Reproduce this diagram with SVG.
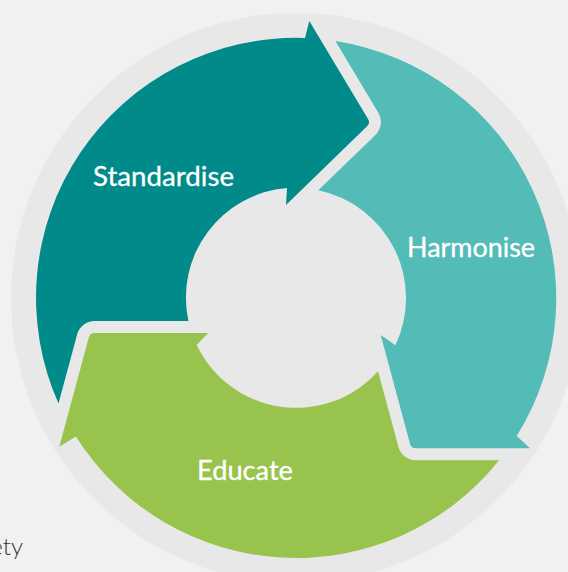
<svg xmlns="http://www.w3.org/2000/svg" width="568" height="572" viewBox="0 0 568 572">
  <style>
    .lbl { font-family: Lato, "Open Sans", "Liberation Sans", sans-serif; font-size: 27px; fill: #ffffff; stroke: #ffffff; stroke-width: 0.3px; }
    .side { font-family: Lato, "Open Sans", "Liberation Sans", sans-serif; font-size: 24px; font-weight: 300; fill: #333333; }
  </style>
  <rect x="0" y="0" width="568" height="572" fill="#f1f1f1"/>
  <circle id="backdrop" cx="296" cy="298" r="285" fill="#e8e8e8"/>
  <g id="standardise">
    <path fill="#008b8a" d="M 58.5 403.6 A 260 260 0 0 1 305 38 L 309.3 21 L 368.05 118.9 A 6 6 0 0 1 367.08 126.3 L 286 205 L 287 188 A 110 110 0 0 0 188.4 321 L 94.6 321 A 18 18 0 0 0 77.2 334.3 Z"/>
    <text class="lbl" x="93" y="186" textLength="141" lengthAdjust="spacingAndGlyphs">Standardise</text>
  </g>
  <g id="harmonise">
    <path fill="#53bcb7" d="M 335.4 41.1 A 260 260 0 0 1 516.7 436 L 530 448.3 L 415.9 448.3 A 6 6 0 0 1 410.1 443.9 L 380.7 335 L 395.4 345.2 A 110 110 0 0 0 318.3 190.3 L 375.4 135 A 18 18 0 0 0 378.35 112.7 Z"/>
    <text class="lbl" x="407" y="257" textLength="128" lengthAdjust="spacingAndGlyphs">Harmonise</text>
  </g>
  <g id="educate">
    <path fill="#98c34c" d="M 499.1 460.3 A 260 260 0 0 1 75.9 436.4 L 59.3 446.7 L 88.8 337.4 A 6 6 0 0 1 94.6 333 L 208.3 333 L 196.7 345 A 110 110 0 0 0 378 371.3 L 398.5 447 A 18 18 0 0 0 415.9 460.3 Z"/>
    <text class="lbl" x="197" y="480" textLength="96" lengthAdjust="spacingAndGlyphs">Educate</text>
  </g>
  <text class="side" x="23" y="555" text-anchor="end">ety</text>
</svg>
